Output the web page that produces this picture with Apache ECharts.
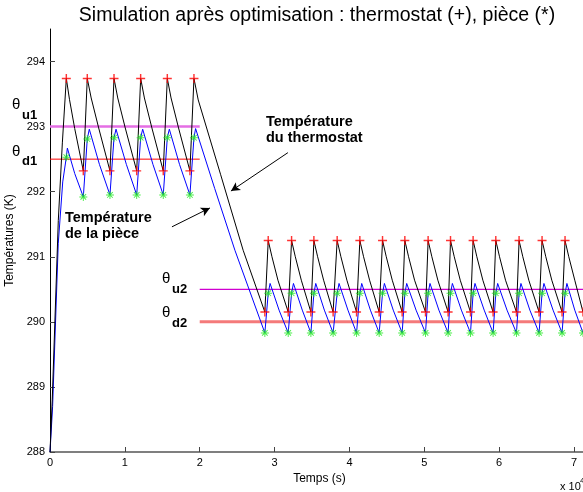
<!DOCTYPE html>
<html lang="fr">
<head>
<meta charset="UTF-8">
<title>Simulation après optimisation</title>
<script src="https://cdn.jsdelivr.net/npm/echarts@6/dist/echarts.min.js"></script>
<style>
  html, body { margin: 0; padding: 0; background: #fff; }
  #chart { width: 583px; height: 492px; }
</style>
</head>
<body>
<div id="chart"></div>
<script>
  // temps en unités de 1e4 s (axe "x 10^4"), températures en K

  // température du thermostat (courbe noire)
  let thermoCurve = [
    [0, 288.0], [0.03, 288.8], [0.111, 291.56], [0.165, 292.75], [0.218, 293.74],
    [0.26, 293.42], [0.33, 292.97], [0.445, 292.32],
    [0.498, 293.74], [0.55, 293.44], [0.65, 292.98], [0.801, 292.32],
    [0.855, 293.74], [0.905, 293.44], [1.005, 292.98], [1.158, 292.32],
    [1.211, 293.74], [1.261, 293.44], [1.361, 292.98], [1.513, 292.32],
    [1.567, 293.74], [1.617, 293.44], [1.717, 292.98], [1.869, 292.32],
    [1.923, 293.74], [1.98, 293.41], [2.28, 292.26], [2.58, 291.10], [2.870, 290.15],
    [2.915, 291.25], [2.965, 291.00], [3.045, 290.64], [3.182, 290.15],
    [3.227, 291.25], [3.277, 291.00], [3.357, 290.64], [3.485, 290.15],
    [3.525, 291.25], [3.575, 291.00], [3.655, 290.64], [3.782, 290.15],
    [3.836, 291.25], [3.886, 291.00], [3.966, 290.64], [4.095, 290.15],
    [4.139, 291.25], [4.189, 291.00], [4.269, 290.64], [4.397, 290.15],
    [4.442, 291.25], [4.492, 291.00], [4.572, 290.64], [4.704, 290.15],
    [4.740, 291.25], [4.790, 291.00], [4.870, 290.64], [5.016, 290.15],
    [5.051, 291.25], [5.101, 291.00], [5.181, 290.64], [5.318, 290.15],
    [5.350, 291.25], [5.400, 291.00], [5.480, 290.64], [5.617, 290.15],
    [5.652, 291.25], [5.702, 291.00], [5.782, 290.64], [5.919, 290.15],
    [5.955, 291.25], [6.005, 291.00], [6.085, 290.64], [6.231, 290.15],
    [6.266, 291.25], [6.316, 291.00], [6.396, 290.64], [6.533, 290.15],
    [6.573, 291.25], [6.623, 291.00], [6.703, 290.64], [6.840, 290.15],
    [6.880, 291.25], [6.930, 291.00], [7.010, 290.64], [7.120, 290.15]
  ];

  // température de la pièce (courbe bleue)
  let roomCurve = [
    [0, 288.0], [0.035, 288.7], [0.11, 291.2], [0.17, 292.15], [0.218, 292.53],
    [0.232, 292.67], [0.33, 292.28], [0.445, 291.92],
    [0.498, 292.81], [0.525, 292.96], [0.66, 292.42], [0.801, 291.95],
    [0.855, 292.83], [0.882, 292.96], [1.02, 292.42], [1.158, 291.95],
    [1.211, 292.83], [1.238, 292.96], [1.375, 292.42], [1.513, 291.95],
    [1.567, 292.83], [1.594, 292.96], [1.73, 292.42], [1.869, 291.95],
    [1.923, 292.83], [1.945, 292.97], [2.2, 292.05], [2.47, 291.10], [2.870, 289.83],
    [2.915, 290.44], [2.94, 290.59], [3.06, 290.18], [3.182, 289.83],
    [3.227, 290.44], [3.252, 290.59], [3.37, 290.18], [3.485, 289.83],
    [3.525, 290.44], [3.55, 290.59], [3.665, 290.18], [3.782, 289.83],
    [3.836, 290.44], [3.861, 290.59], [3.98, 290.18], [4.095, 289.83],
    [4.139, 290.44], [4.164, 290.59], [4.28, 290.18], [4.397, 289.83],
    [4.442, 290.44], [4.467, 290.59], [4.585, 290.18], [4.704, 289.83],
    [4.740, 290.44], [4.765, 290.59], [4.89, 290.18], [5.016, 289.83],
    [5.051, 290.44], [5.076, 290.59], [5.195, 290.18], [5.318, 289.83],
    [5.350, 290.44], [5.375, 290.59], [5.495, 290.18], [5.617, 289.83],
    [5.652, 290.44], [5.677, 290.59], [5.80, 290.18], [5.919, 289.83],
    [5.955, 290.44], [5.98, 290.59], [6.105, 290.18], [6.231, 289.83],
    [6.266, 290.44], [6.291, 290.59], [6.41, 290.18], [6.533, 289.83],
    [6.573, 290.44], [6.598, 290.59], [6.72, 290.18], [6.840, 289.83],
    [6.880, 290.44], [6.905, 290.59], [7.01, 290.18], [7.120, 289.83]
  ];

  // instants de commutation (arrêt / remise en marche du chauffage)
  let offTimes = [0.218, 0.498, 0.855, 1.211, 1.567, 1.923,
    2.915, 3.227, 3.525, 3.836, 4.139, 4.442, 4.740, 5.051, 5.350, 5.652, 5.955, 6.266, 6.573, 6.880];
  let onTimes = [0.445, 0.801, 1.158, 1.513, 1.869,
    2.870, 3.182, 3.485, 3.782, 4.095, 4.397, 4.704, 5.016, 5.318, 5.617, 5.919, 6.231, 6.533, 6.840, 7.120];

  // seuils
  let phase1 = [0, 2.0];
  let phase2 = [2.0, 7.2];
  let thetaU1 = 293.0, thetaD1 = 292.5;
  let thetaU2 = 290.5, thetaD2 = 290.0;

  let xTicks = [0, 1, 2, 3, 4, 5, 6, 7];
  let yTicks = [288, 289, 290, 291, 292, 293, 294];

  let switchTimes = offTimes.concat(onTimes);
  let redMarks = thermoCurve.filter(p => switchTimes.includes(p[0]));
  let greenMarks = roomCurve.filter(p => switchTimes.includes(p[0]));

  let plusPath = 'path://M4.2,0h1.6v4.2h4.2v1.6h-4.2v4.2h-1.6v-4.2h-4.2v-1.6h4.2z';
  let starPath = 'path://M4.4,0h1.2v10h-1.2z M0,4.4h10v1.2h-10z ' +
    'M1.92,1.08L8.92,8.08L8.08,8.92L1.08,1.92z M8.08,1.08L8.92,1.92L1.92,8.92L1.08,8.08z';

  let font = '"Liberation Sans", Arial, sans-serif';

  let dom = document.getElementById('chart');
  let chart = echarts.init(dom);

  function hline(x, y, color, width) {
    return {
      type: 'line', data: [[x[0], y], [x[1], y]], showSymbol: false, silent: true,
      lineStyle: { color: color, width: width }, z: 1
    };
  }

  function txt(x, y, text, f) {
    return { type: 'text', style: { x: x, y: y, text: text, font: f, fill: '#000', verticalAlign: 'middle' } };
  }

  let option = {
    animation: false,
    grid: { left: 50, top: 29, bottom: 40, right: -6, containLabel: false, outerBoundsMode: 'none' },
    xAxis: {
      type: 'value', min: 0, max: 7.2,
      name: 'Temps (s)', nameLocation: 'middle', nameGap: 20,
      nameTextStyle: { fontFamily: font, fontSize: 12, color: '#000' },
      axisLine: { lineStyle: { color: '#555', width: 1.5 } },
      axisTick: { inside: true, length: 5, customValues: xTicks, lineStyle: { color: '#444' } },
      axisLabel: { fontFamily: font, fontSize: 11, color: '#000', margin: 5, customValues: xTicks },
      splitLine: { show: false }
    },
    yAxis: {
      type: 'value', min: 288, max: 294.5,
      name: 'Températures (K)', nameLocation: 'middle', nameGap: 31,
      nameTextStyle: { fontFamily: font, fontSize: 12, color: '#000' },
      axisLine: { show: true, lineStyle: { color: '#000', width: 1 } },
      axisTick: { inside: true, length: 5, customValues: yTicks, lineStyle: { color: '#444' } },
      axisLabel: { fontFamily: font, fontSize: 11, color: '#000', margin: 5, customValues: yTicks },
      splitLine: { show: false }
    },
    graphic: [
      { type: 'text', style: { x: 317, y: 16, text: 'Simulation après optimisation : thermostat (+), pièce (*)',
        font: '19.5px ' + font, fill: '#000', align: 'center', verticalAlign: 'middle' } },
      txt(266, 122, 'Température', 'bold 14.5px ' + font),
      txt(266, 138, 'du thermostat', 'bold 14.5px ' + font),
      txt(65, 218, 'Température', 'bold 14.5px ' + font),
      txt(65, 234, 'de la pièce', 'bold 14.5px ' + font),
      // étiquettes des seuils
      txt(12, 105, 'θ', '15px ' + font),
      txt(22, 115, 'u1', 'bold 13px ' + font),
      txt(12, 152, 'θ', '15px ' + font),
      txt(22, 161, 'd1', 'bold 13px ' + font),
      txt(162, 279, 'θ', '15px ' + font),
      txt(172, 289, 'u2', 'bold 13px ' + font),
      txt(162, 313, 'θ', '15px ' + font),
      txt(172, 323, 'd2', 'bold 13px ' + font),
      // multiplicateur de l'axe x
      txt(560, 487, 'x 10', '11px ' + font),
      txt(580, 481, '4', '8px ' + font)
    ],
    series: [
      hline(phase1, thetaU1, '#e46ee4', 2.5),
      hline(phase1, thetaD1, '#ff0000', 1),
      hline(phase2, thetaU2, '#d000d0', 1.2),
      hline(phase2, thetaD2, '#f47a7a', 3),
      {
        type: 'line', name: 'pièce', data: roomCurve, showSymbol: false, z: 3,
        lineStyle: { color: '#0000ff', width: 1 }
      },
      {
        type: 'line', name: 'thermostat', data: thermoCurve, showSymbol: false, z: 4,
        lineStyle: { color: '#000', width: 1 }
      },
      {
        type: 'scatter', data: redMarks, symbol: plusPath, symbolSize: 9, z: 5,
        itemStyle: { color: '#ff0000' }
      },
      {
        type: 'scatter', data: greenMarks, symbol: starPath, symbolSize: 8, z: 5,
        itemStyle: { color: '#1ee81e' }
      },
      {
        type: 'line', data: [], silent: true,
        markLine: {
          silent: true, symbol: ['none', 'arrow'], symbolSize: [7, 9],
          label: { show: false },
          lineStyle: { color: '#000', width: 1, type: 'solid' },
          data: [
            [{ coord: [3.178, 292.6] }, { coord: [2.417, 292.01] }],
            [{ coord: [1.629, 291.46] }, { coord: [2.136, 291.75] }]
          ]
        }
      }
    ]
  };

  chart.setOption(option);
</script>
</body>
</html>
